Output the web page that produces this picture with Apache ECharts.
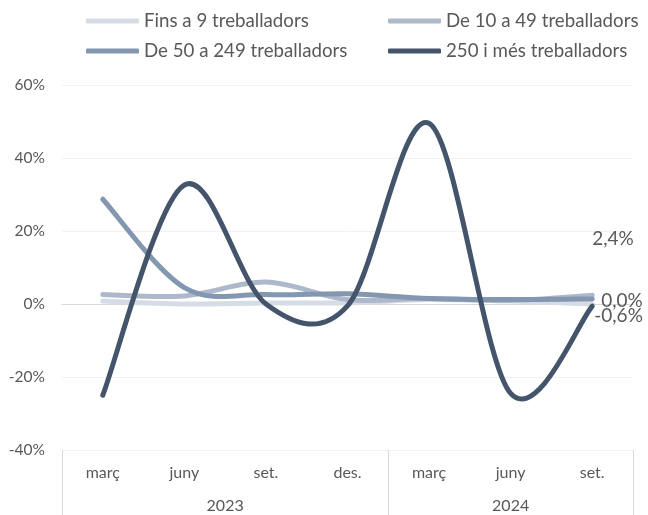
<!DOCTYPE html>
<html>
<head>
<meta charset="utf-8">
<script src="https://cdn.jsdelivr.net/npm/echarts@6/dist/echarts.min.js"></script>
<style>
html,body{margin:0;padding:0;background:#fff;}
#chart{width:648px;height:515px;}
</style>
</head>
<body>
<div id="chart"></div>
<script>
// ---- data ----
const months = ['març', 'juny', 'set.', 'des.', 'març', 'juny', 'set.'];
const years = ['2023', '2024'];
const monthsPerYear = [4, 3];
const seriesNames = ['Fins a 9 treballadors', 'De 10 a 49 treballadors', 'De 50 a 249 treballadors', '250 i més treballadors'];
const fins9 = [0.8, 0.0, 0.3, 0.3, 1.2, 0.8, 0.0];
const de10a49 = [2.6, 2.2, 6.0, 1.2, 1.5, 1.0, 2.4];
const de50a249 = [28.7, 4.5, 2.6, 2.8, 1.5, 1.2, 1.4];
const mes250 = [-25.0, 32.6, 0.0, -0.5, 49.5, -24.5, -0.6];
const yTicks = [-40, -20, 0, 20, 40, 60];

const colors = ['#D6DCE5', '#ADB9CA', '#8497B0', '#44546A'];
const FONT = 'Lato';
const TXT = '#595959';

function fmtPct(v) { return v.toFixed(1).replace('.', ',') + '%'; }

// year label centres (in month units) derived from months per year
const yearCentres = [];
let acc = 0;
monthsPerYear.forEach(n => { yearCentres.push(acc + n / 2); acc += n; });

const chart = echarts.init(document.getElementById('chart'), null, {renderer: 'canvas'});

// Spreadsheet-style smoothed line: cubic Bezier through the points
// projected by the library's own axes (api.coord).
function mkSeries(i, values, labelOffset) {
  return {
    name: seriesNames[i],
    type: 'custom',
    xAxisIndex: 0,
    yAxisIndex: 0,
    data: values.map((v, k) => [k, v]),
    z: 2 + i,
    itemStyle: {color: colors[i]},
    silent: true,
    renderItem: function (params, api) {
      if (params.dataIndex !== 0) return null;
      const pts = values.map((v, k) => api.coord([k, v]));
      const n = pts.length;
      let d = 'M' + pts[0][0] + ' ' + pts[0][1];
      for (let k = 0; k < n - 1; k++) {
        const p0 = pts[Math.max(k - 1, 0)];
        const p1 = pts[k];
        const p2 = pts[k + 1];
        const p3 = pts[Math.min(k + 2, n - 1)];
        const c1x = p1[0] + (p2[0] - p0[0]) / 6;
        const c1y = p1[1] + (p2[1] - p0[1]) / 6;
        const c2x = p2[0] - (p3[0] - p1[0]) / 6;
        const c2y = p2[1] - (p3[1] - p1[1]) / 6;
        d += ' C' + c1x + ' ' + c1y + ' ' + c2x + ' ' + c2y + ' ' + p2[0] + ' ' + p2[1];
      }
      const children = [{
        type: 'path',
        shape: {pathData: d},
        style: {fill: null, stroke: colors[i], lineWidth: 5, lineCap: 'round', lineJoin: 'round'}
      }];
      if (labelOffset) {
        const last = pts[n - 1];
        children.push({
          type: 'text',
          x: last[0] + 5 + labelOffset[0],
          y: last[1] + labelOffset[1],
          style: {
            text: fmtPct(values[n - 1]),
            fontFamily: FONT, fontSize: 19, fill: TXT,
            align: 'left', verticalAlign: 'middle'
          }
        });
      }
      return {type: 'group', children: children};
    }
  };
}

const legendCommon = {
  orient: 'vertical',
  top: 11,
  padding: 0,
  itemWidth: 53, itemHeight: 5, itemGap: 10,
  icon: 'roundRect',
  textStyle: {fontFamily: FONT, fontSize: 18.7, color: TXT, lineHeight: 20},
  selectedMode: false
};

const option = {
  animation: false,
  textStyle: {fontFamily: FONT},
  legend: [
    Object.assign({data: [seriesNames[0], seriesNames[2]], left: 86}, legendCommon),
    Object.assign({data: [seriesNames[1], seriesNames[3]], left: 388}, legendCommon)
  ],
  grid: [
    {left: 62, right: 15, top: 85, height: 365, containLabel: false},
    {left: 62, right: 15, top: 450, height: 80, containLabel: false}
  ],
  xAxis: [
    {
      gridIndex: 0, type: 'category', data: months,
      axisLine: {show: true, onZero: true, lineStyle: {color: '#D9D9D9', width: 1}},
      axisTick: {show: false}, axisLabel: {show: false}, splitLine: {show: false}
    },
    {
      gridIndex: 1, type: 'category', data: months, position: 'top',
      axisLine: {show: true, lineStyle: {color: '#D9D9D9', width: 1}},
      axisTick: {show: false},
      axisLabel: {show: true, inside: true, margin: 15, fontFamily: FONT, fontSize: 16, color: TXT, interval: 0},
      splitLine: {show: true, interval: (k) => k === 0 || k === monthsPerYear[0], lineStyle: {color: '#D9D9D9', width: 1}}
    },
    {
      gridIndex: 1, type: 'value', min: 0, max: months.length, interval: 0.5, position: 'top',
      axisLine: {show: false}, axisTick: {show: false}, splitLine: {show: false},
      axisLabel: {
        show: true, inside: true, margin: 48, fontFamily: FONT, fontSize: 16, color: TXT,
        formatter: (v) => { const k = yearCentres.indexOf(v); return k >= 0 ? years[k] : ''; }
      }
    }
  ],
  yAxis: [
    {
      gridIndex: 0, type: 'value', min: yTicks[0], max: yTicks[yTicks.length - 1], interval: 20,
      axisLine: {show: false}, axisTick: {show: false},
      axisLabel: {formatter: '{value}%', fontFamily: FONT, fontSize: 15.5, color: TXT, margin: 17},
      splitLine: {show: true, lineStyle: {color: '#F2F2F2', width: 1}}
    },
    {
      gridIndex: 1, type: 'value', min: 0, max: 1,
      axisLine: {show: false}, axisTick: {show: false}, axisLabel: {show: false}, splitLine: {show: false}
    }
  ],
  series: [
    mkSeries(0, fins9, [4, -3]),
    mkSeries(1, de10a49, [-5, -56]),
    mkSeries(2, de50a249, null),
    mkSeries(3, mes250, [-3, 10])
  ]
};
chart.setOption(option);
</script>
</body>
</html>
